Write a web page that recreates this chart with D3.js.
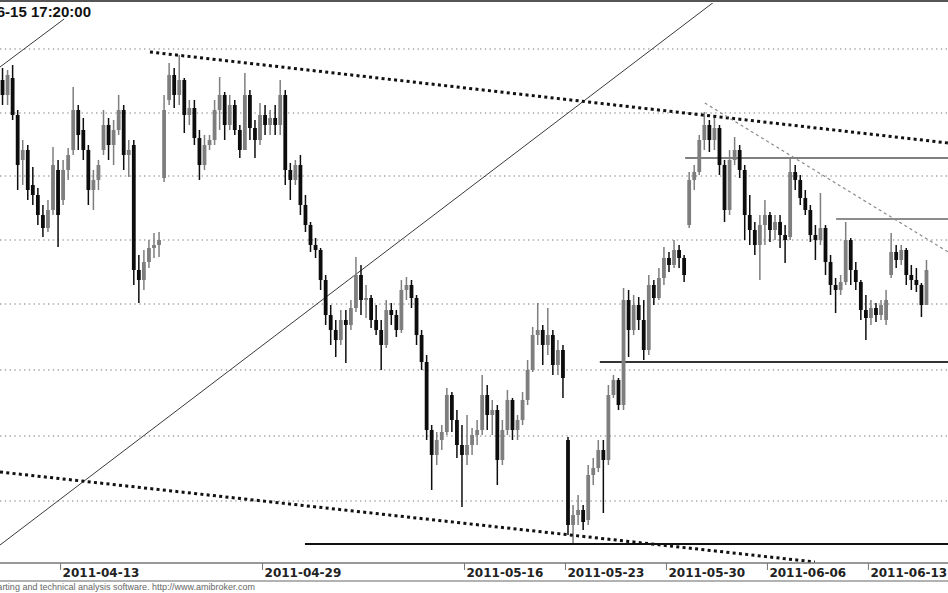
<!DOCTYPE html>
<html><head><meta charset="utf-8">
<script src="https://d3js.org/d3.v7.min.js"></script>
<style>html,body{margin:0;padding:0;background:#fff;}svg{display:block;}</style>
</head><body>
<svg id="chart" width="948" height="593"></svg>
<script>
// ---- data ----
const days = ["2011-04-08","2011-04-11","2011-04-12","2011-04-13","2011-04-14","2011-04-15","2011-04-18","2011-04-19","2011-04-20","2011-04-21","2011-04-26","2011-04-27","2011-04-28","2011-04-29","2011-05-02","2011-05-04","2011-05-05","2011-05-06","2011-05-09","2011-05-10","2011-05-11","2011-05-12","2011-05-13","2011-05-16","2011-05-17","2011-05-18","2011-05-19","2011-05-20","2011-05-23","2011-05-24","2011-05-25","2011-05-26","2011-05-27","2011-05-30","2011-05-31","2011-06-01","2011-06-02","2011-06-03","2011-06-06","2011-06-07","2011-06-08","2011-06-09","2011-06-10","2011-06-13","2011-06-14","2011-06-15"];
const barsPerDay = 4;
const tickLabels = ["2011-04-13","2011-04-29","2011-05-16","2011-05-23","2011-05-30","2011-06-06","2011-06-13"];
const titleText = "2011-06-15 17:20:00";
const footerText = "AmiBroker - charting and technical analysis software. http://www.amibroker.com";

const open = [520,505,522,485,440,450,415,405, 385,372,390,430,400,430,450,490, 470,450,410,420,450,475,455,470,
490,445,455,330,320,338,352,355, 422,500,525,505,520,485,492,462, 435,455,460,490,505,475,495,470,
450,505,472,460,485,475,482,475, 505,430,420,435,395,375,355,350, 320,285,270,260,280,275,292,325,
300,302,280,270,255,290,285,270, 310,315,302,265,238,170,145,160, 168,205,180,155,145,155,165,170,
205,185,190,140,170,200,170,180, 200,230,265,270,255,265,235,250, 160,75,85,90,80,125,132,150,
140,205,220,195,300,270,295,280, 250,315,302,322,342,335,350,342, 375,420,428,460,475,460,472,435,
390,440,450,430,385,370,355,375, 385,370,378,365,363,428,420,402, 390,365,360,372,338,315,310,318,
360,330,318,290,282,292,285,280, 325,348,340,350,325,320,315,295];
const high = [532,530,535,490,460,455,433,412, 395,400,453,440,440,452,513,495, 482,455,430,440,490,482,480,505,
495,460,460,345,350,360,367,368, 505,537,532,545,522,500,500,470, 465,465,500,523,508,505,500,475,
527,510,480,497,495,490,495,520, 510,437,440,445,405,378,362,352, 325,295,280,290,290,300,343,335,
315,305,295,280,300,297,290,320, 323,320,305,270,245,175,168,175, 212,208,190,175,185,172,180,225,
215,200,195,180,210,202,185,208, 240,273,297,275,292,270,260,255, 163,95,105,95,135,142,160,160,
215,225,222,312,310,305,303,300, 325,320,332,353,348,360,355,345, 428,435,465,488,480,485,475,440,
450,463,455,435,405,378,385,400, 388,385,385,375,442,435,425,410, 395,375,407,375,345,322,325,378,
362,338,320,305,300,297,300,310, 367,355,355,352,335,332,317,340];
const low = [495,495,480,410,415,400,395,375, 363,368,385,353,395,420,445,450, 440,395,390,410,445,440,435,465,
430,423,315,297,310,332,342,343, 418,495,492,495,467,475,455,420, 430,450,455,470,460,470,465,442,
450,460,442,455,465,465,465,465, 415,400,415,385,368,348,342,310, 275,255,243,255,237,270,288,285,
282,272,265,230,252,275,263,267, 300,292,255,230,160,110,135,150, 165,168,142,93,135,145,155,165,
170,165,115,135,165,160,160,175, 195,228,255,235,245,225,225,202, 65,57,75,70,75,115,128,87,
135,202,190,190,243,265,270,240, 245,295,300,315,328,332,332,318, 372,410,425,450,448,450,425,378,
385,435,422,360,355,345,320,355, 358,360,352,337,360,410,395,385, 358,340,355,325,305,287,305,315,
315,310,280,260,275,278,280,275, 322,332,335,315,310,308,283,295];
const close = [505,525,485,435,450,410,405,385, 372,390,435,385,430,445,490,465, 450,410,420,435,475,455,470,490,
445,450,330,320,338,352,355,360, 490,525,505,520,485,492,462,435, 455,460,490,505,475,495,470,450,
505,472,460,485,475,482,475,505, 430,420,435,395,375,355,350,320, 285,270,260,280,275,292,325,300,
302,280,270,255,290,285,270,310, 315,302,265,238,170,145,160,168, 205,180,155,145,155,165,170,205,
185,190,140,170,200,170,180,200, 230,265,270,255,265,235,250,222, 75,85,90,78,125,132,150,140,
205,220,195,300,270,295,280,250, 315,302,322,342,335,350,342,325, 420,428,460,475,460,472,435,390,
440,450,430,385,370,355,375,385, 370,378,365,360,428,420,402,390, 365,360,372,338,315,310,318,360,
330,318,290,282,292,285,295,300, 348,340,350,325,320,315,295,330];

const gridLevels = [551,487,424,360,296,230,164,99];

// trend lines: [barIndex, price] endpoints
const channelLower = [[-0.5,55],[140.9,598]];
const channelUpper = [[-0.5,533],[12.2,581]];
const resistDotted = [[29.2,548],[187.3,457]];
const supportDotted = [[-0.5,128],[160.9,38]];
const dashedDown = [[139.1,497],[187.3,348]];
const levelLines = [
  {from:135.2, to:187.3, price:442, color:"#555", w:1.5},
  {from:165.1, to:187.3, price:381, color:"#666", w:1.5},
  {from:118.3, to:187.3, price:238, color:"#333", w:2},
  {from:59.9,  to:187.3, price:56,  color:"#111", w:2}
];

// ---- drawing ----
const W = 948, H = 593;
const plotTop = 3, plotBottom = 563;
const svg = d3.select("#chart");
const nBars = days.length * barsPerDay;
const x = d3.scaleLinear().domain([-0.5, nBars - 0.5]).range([0, 929]);
const y = d3.scaleLinear().domain([0, 600]).range([600, 0]);

svg.append("defs").append("clipPath").attr("id","plotclip")
  .append("rect").attr("x",0).attr("y",plotTop).attr("width",W).attr("height",plotBottom-plotTop);

const plot = svg.append("g").attr("clip-path","url(#plotclip)");

// grid
plot.selectAll("line.grid").data(gridLevels).enter().append("line")
  .attr("class","grid").attr("x1",0).attr("x2",W)
  .attr("y1",d=>y(d)).attr("y2",d=>y(d))
  .attr("stroke","#a8a8a8").attr("stroke-width",1.3).attr("stroke-dasharray","1.4 3.4");

const line = d3.line().x(d=>x(d[0])).y(d=>y(d[1]));

// solid channel lines
[channelLower, channelUpper].forEach(pts=>{
  plot.append("path").attr("d",line(pts)).attr("fill","none")
    .attr("stroke","#3a3a3a").attr("stroke-width",1);
});

// level lines
levelLines.forEach(l=>{
  plot.append("line").attr("x1",x(l.from)).attr("x2",x(l.to))
    .attr("y1",y(l.price)).attr("y2",y(l.price))
    .attr("stroke",l.color).attr("stroke-width",l.w);
});

// bars (candles)
const upCol = "#7e7e7e", downCol = "#0d0d0d";
const bars = d3.range(nBars).map(i=>({i, o:open[i], h:high[i], l:low[i], c:close[i]}));
const g = plot.append("g");
g.selectAll("line.wick").data(bars).enter().append("line")
  .attr("x1",d=>x(d.i)).attr("x2",d=>x(d.i))
  .attr("y1",d=>y(d.h)).attr("y2",d=>y(d.l))
  .attr("stroke",d=>d.c<d.o?downCol:upCol).attr("stroke-width",1.5);
g.selectAll("rect.body").data(bars).enter().append("rect")
  .attr("x",d=>x(d.i)-1.9).attr("width",3.8)
  .attr("y",d=>y(Math.max(d.o,d.c)))
  .attr("height",d=>Math.max(2, Math.abs(y(d.o)-y(d.c))))
  .attr("fill",d=>d.c<d.o?downCol:upCol);

// dotted trend lines
[resistDotted, supportDotted].forEach(pts=>{
  plot.append("path").attr("d",line(pts)).attr("fill","none")
    .attr("stroke","#111").attr("stroke-width",3).attr("stroke-dasharray","3 3.3");
});
plot.append("path").attr("d",line(dashedDown)).attr("fill","none")
  .attr("stroke","#8a8a8a").attr("stroke-width",1.2).attr("stroke-dasharray","3 3");

// top border
svg.append("line").attr("x1",0).attr("x2",W).attr("y1",1).attr("y2",1)
  .attr("stroke","#555").attr("stroke-width",2);

// title (clipped at the left edge as in the original)
svg.append("text").attr("x",91).attr("y",17).attr("text-anchor","end")
  .attr("font-family","Liberation Sans, Arial, sans-serif").attr("font-weight","bold")
  .attr("font-size",15).attr("fill","#111").text(titleText);

// x axis
svg.append("line").attr("x1",0).attr("x2",W).attr("y1",plotBottom).attr("y2",plotBottom)
  .attr("stroke","#777").attr("stroke-width",1.5);
svg.append("line").attr("x1",0).attr("x2",W).attr("y1",581).attr("y2",581)
  .attr("stroke","#999").attr("stroke-width",1.5);
const ticks = tickLabels.map(t=>({t, i: days.indexOf(t)*barsPerDay}));
const ax = svg.append("g");
ax.selectAll("line.tick").data(ticks).enter().append("line")
  .attr("x1",d=>x(d.i-0.5)).attr("x2",d=>x(d.i-0.5))
  .attr("y1",plotBottom).attr("y2",570).attr("stroke","#777").attr("stroke-width",1);
ax.selectAll("text.tl").data(ticks).enter().append("text")
  .attr("x",d=>x(d.i-0.5)+2).attr("y",577)
  .attr("font-family","DejaVu Sans, sans-serif").attr("font-weight","bold")
  .attr("font-size",12).attr("fill","#222").text(d=>d.t);

// footer
svg.append("text").attr("x",255).attr("y",590).attr("text-anchor","end")
  .attr("font-family","Liberation Sans, Arial, sans-serif").attr("font-size",9)
  .attr("fill","#666").text(footerText);
</script>
</body></html>
